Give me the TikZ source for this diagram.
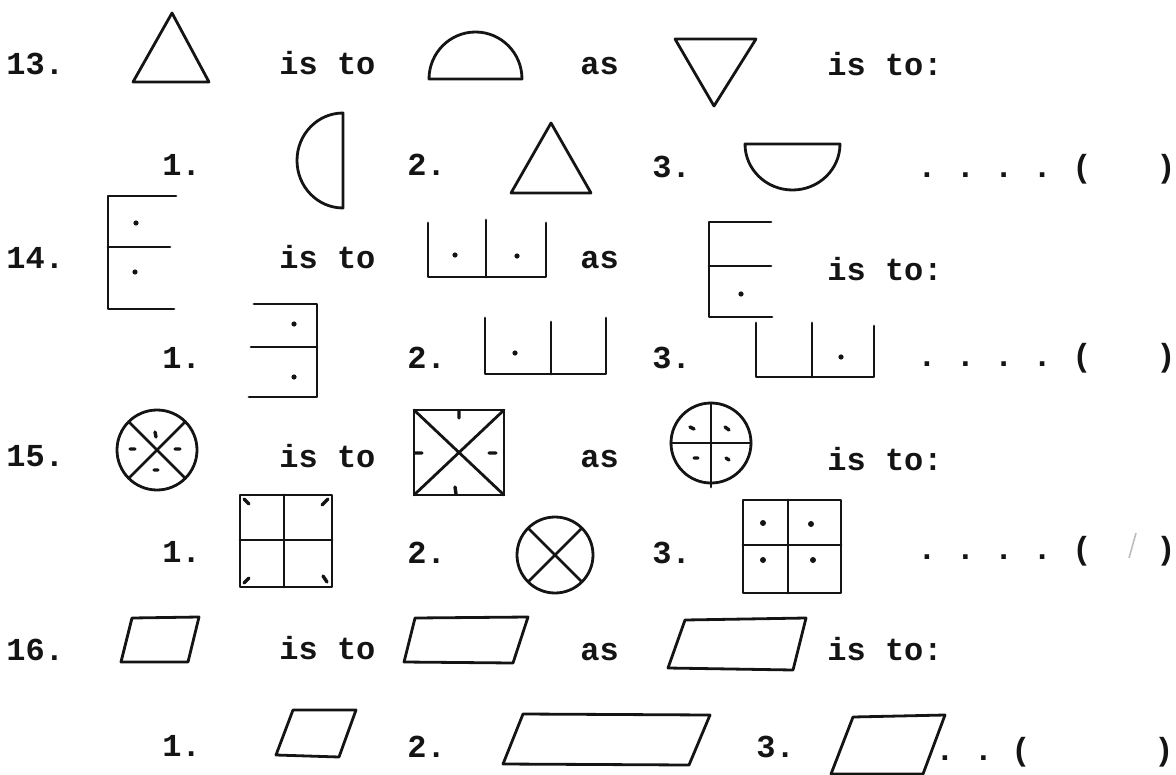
\documentclass[tikz,border=0pt]{standalone}
\usepackage{fontspec}
\setmonofont{Liberation Mono}
\usepackage{tikz}
\definecolor{TypeInk}{HTML}{141414}
\definecolor{PencilGrey}{HTML}{BDBDBD}
\tikzset{
  typed/.style={font=\ttfamily\bfseries\fontsize{16}{19}\selectfont,text=TypeInk,anchor=base west,inner sep=0pt},
  paren/.style={typed,anchor=base},
  fig/.style={draw=TypeInk,line width=1.4pt,line join=round,line cap=round},
  tick/.style={draw=TypeInk,line width=1.7pt,line cap=round},
  spot/.style={fill=TypeInk,draw=none}
}
\begin{document}
\begin{tikzpicture}[x=0.5pt,y=-0.5pt]
  \useasboundingbox (0,0) rectangle (1176,775);
  % question 13
  \node[typed] (n13) at (6,75) {13.};
  \draw[fig] (172,13) -- (209,82) -- (133,82) -- cycle;
  \node[typed] (isa13) at (279,75) {is to};
  \draw[fig] (429,79) arc[start angle=180,end angle=360,x radius=46.5,y radius=47] -- cycle;
  \node[typed] (as13) at (580,75) {as};
  \draw[fig] (675,39) -- (756,39) -- (714,106) -- cycle;
  \node[typed] (isb13) at (827,76) {is to:};
  \node[typed] (o13a) at (162,176) {1.};
  \draw[fig] (343,113) arc[start angle=270,end angle=90,x radius=46,y radius=47.5] -- cycle;
  \node[typed] (o13b) at (407,176) {2.};
  \draw[fig] (551,123) -- (591,193) -- (511,193) -- cycle;
  \node[typed] (o13c) at (652,177) {3.};
  \draw[fig] (745,144) arc[start angle=180,end angle=0,x radius=47.5,y radius=46] -- cycle;
  \node[typed] (dots13) at (917,178) {.~.~.~.};
  \node[paren] (lp13) at (1082,178) {(};
  \node[paren] (rp13) at (1166,178) {)};
  % question 14
  \node[typed] (n14) at (6,268) {14.};
  \draw[fig] (176,196) -- (108,196) -- (108,309) -- (174,309);
  \draw[fig] (108,247) -- (170,247);
  \fill[spot] (136,223) circle (2.6) (135,272) circle (2.6);
  \node[typed] (isa14) at (279,268) {is to};
  \draw[fig] (428,223) -- (428,277) -- (546,277) -- (546,223);
  \draw[fig] (486,220) -- (486,277);
  \fill[spot] (455,255) circle (2.6) (517,256) circle (2.6);
  \node[typed] (as14) at (580,268) {as};
  \draw[fig] (771,222) -- (709,222) -- (709,317) -- (772,317);
  \draw[fig] (709,266) -- (771,266);
  \fill[spot] (741,294) circle (2.6);
  \node[typed] (isb14) at (827,280) {is to:};
  \node[typed] (o14a) at (162,368) {1.};
  \draw[fig] (254,304) -- (317,304) -- (317,397) -- (249,397);
  \draw[fig] (251,347) -- (317,347);
  \fill[spot] (294,324) circle (2.6) (294,377) circle (2.6);
  \node[typed] (o14b) at (407,368) {2.};
  \draw[fig] (485,318) -- (485,374) -- (606,374) -- (606,318);
  \draw[fig] (551,322) -- (551,374);
  \fill[spot] (515,353) circle (2.6);
  \node[typed] (o14c) at (652,368) {3.};
  \draw[fig] (756,323) -- (756,377) -- (874,377) -- (874,326);
  \draw[fig] (812,323) -- (812,377);
  \fill[spot] (841,357) circle (2.6);
  \node[typed] (dots14) at (917,366) {.~.~.~.};
  \node[paren] (lp14) at (1082,366) {(};
  \node[paren] (rp14) at (1166,366) {)};
  % question 15
  \node[typed] (n15) at (6,466) {15.};
  \draw[fig] (157,450) circle (40);
  \draw[fig] (129,422) -- (185,478) (185,422) -- (129,478);
  \draw[tick] (155,432) -- (156,437) (130,449) -- (135,449) (175,449) -- (180,449) (154,470) -- (158,470);
  \node[typed] (isa15) at (279,467) {is to};
  \draw[fig] (414,410) rectangle (504,495);
  \draw[fig] (414,410) -- (504,495) (504,410) -- (414,495);
  \draw[tick] (459,411) -- (459,418) (415,453) -- (422,453) (489,453) -- (496,453) (456,494) -- (455,487);
  \node[typed] (as15) at (580,467) {as};
  \draw[fig] (711,443) circle (40);
  \draw[fig] (671,443) -- (751,443) (711,403) -- (711,487);
  \draw[tick] (690,427) -- (694,429) (725,427) -- (729,430) (694,458) -- (698,458) (726,458) -- (729,460);
  \node[typed] (isb15) at (827,470) {is to:};
  \node[typed] (o15a) at (162,562) {1.};
  \draw[fig] (240,495) rectangle (332,587);
  \draw[fig] (284,495) -- (284,587) (240,540) -- (332,540);
  \draw[tick] (244,499) -- (249,504) (328,499) -- (322,505) (244,583) -- (249,578) (327,582) -- (323,576);
  \node[typed] (o15b) at (407,563) {2.};
  \draw[fig] (555,555) circle (38);
  \draw[fig] (528,528) -- (582,582) (582,528) -- (528,582);
  \node[typed] (o15c) at (652,563) {3.};
  \draw[fig] (743,500) rectangle (841,593);
  \draw[fig] (788,500) -- (788,593) (743,545) -- (841,545);
  \fill[spot] (763,523) circle (3) (811,524) circle (3) (763,560) circle (3) (813,560) circle (3);
  \node[typed] (dots15) at (917,559) {.~.~.~.};
  \node[paren] (lp15) at (1082,559) {(};
  \node[paren] (rp15) at (1166,559) {)};
  \draw[PencilGrey,line width=0.8pt] (1129,558) -- (1136,533);
  % question 16
  \node[typed] (n16) at (6,660) {16.};
  \draw[fig] (132,618) -- (199,617) -- (188,662) -- (121,662) -- cycle;
  \node[typed] (isa16) at (279,659) {is to};
  \draw[fig] (415,618) -- (528,617) -- (513,663) -- (404,662) -- cycle;
  \node[typed] (as16) at (580,660) {as};
  \draw[fig] (685,620) -- (806,618) -- (793,670) -- (668,668) -- cycle;
  \node[typed] (isb16) at (827,660) {is to:};
  \node[typed] (o16a) at (162,756) {1.};
  \draw[fig] (293,710) -- (356,710) -- (339,757) -- (276,755) -- cycle;
  \node[typed] (o16b) at (407,757) {2.};
  \draw[fig] (523,714) -- (710,715) -- (689,765) -- (503,764) -- cycle;
  \node[typed] (o16c) at (756,757) {3.};
  \draw[fig] (853,717) -- (945,715) -- (923,774) -- (831,774) -- cycle;
  \node[typed] (dots16) at (935,760) {.~.};
  \node[paren] (lp16) at (1021,760) {(};
  \node[paren] (rp16) at (1164,760) {)};
\end{tikzpicture}
\end{document}
